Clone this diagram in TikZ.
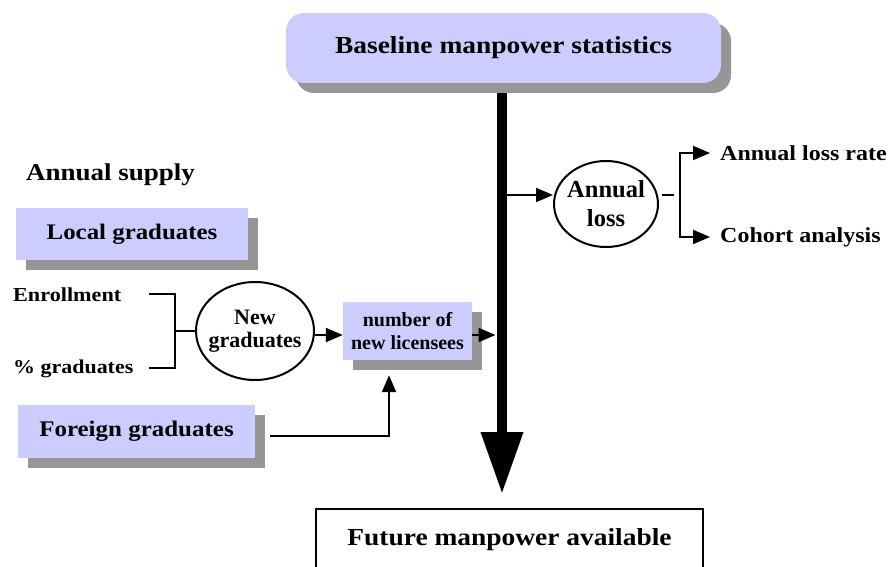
\documentclass[tikz,border=0pt]{standalone}
\usepackage{fontspec}
\setmainfont{Liberation Serif}
\newfontfamily\widefont{Liberation Serif}[FakeStretch=1.12]
\usepackage{xcolor}
\usepackage{tikz}
\usetikzlibrary{arrows.meta,positioning,shapes,shadows,calc}
\definecolor{lavender}{RGB}{204,204,255}
\definecolor{shadowgray}{RGB}{150,150,150}

\begin{document}
\begin{tikzpicture}[x=1pt,y=-1pt,
  box/.style={fill=lavender, inner sep=0pt, drop shadow={shadow xshift=10pt,shadow yshift=-10pt,fill=shadowgray,opacity=1}},
  oval/.style={ellipse, draw, line width=2pt, inner xsep=-6pt, inner ysep=0pt, align=center},
  plain/.style={inner sep=0pt},
  wire/.style={line width=2pt},
  arr/.style={wire, -{Triangle[length=17pt,width=14pt]}}]
\useasboundingbox (0,0) rectangle (896,567);

% Baseline and result
\node[box, rounded corners=18pt, minimum width=435pt, minimum height=70pt, font=\widefont\bfseries\fontsize{24.5}{29}\selectfont] (base) at (503.5,48) {Baseline manpower statistics};
\node[draw, line width=2pt, minimum width=387pt, minimum height=62pt, font=\widefont\bfseries\fontsize{24.5}{29}\selectfont] (future) at (509.5,540) {Future manpower available};

% Annual supply
\node[plain, anchor=base west, font=\widefont\bfseries\fontsize{24.1}{29}\selectfont] (supply) at (26,180) {Annual supply};
\node[box, minimum width=232pt, minimum height=52pt, font=\widefont\bfseries\fontsize{22.2}{27}\selectfont] (local) at (132,234) {Local graduates};
\node[plain, anchor=base west, font=\widefont\bfseries\fontsize{19.8}{24}\selectfont] (enrol) at (13,301) {Enrollment};
\node[plain, anchor=base west, font=\widefont\bfseries\fontsize{19.6}{24}\selectfont] (pct) at (13,373) {\% graduates};
\node[oval, minimum width=118pt, minimum height=98pt, font=\bfseries\fontsize{22}{23}\selectfont] (grad) at (255,331) {New\\graduates};
\node[box, minimum width=129pt, minimum height=58pt, align=center, font=\bfseries\fontsize{20}{23}\selectfont] (lic) at (407.5,331) {number of\\new licensees};
\node[box, minimum width=237pt, minimum height=53pt, font=\widefont\bfseries\fontsize{22.3}{27}\selectfont] (foreign) at (136.5,431.5) {Foreign graduates};

% Annual loss
\node[oval, minimum width=104pt, minimum height=86pt, font=\bfseries\fontsize{24.5}{29}\selectfont] (loss) at (606,204) {Annual\\loss};
\node[plain, anchor=west, font=\widefont\bfseries\fontsize{21.4}{26}\selectfont] (rate) at (720,153) {Annual loss rate};
\node[plain, anchor=west, font=\widefont\bfseries\fontsize{21.4}{26}\selectfont] (cohort) at (720,237) {Cohort analysis};

% Main flow
\draw[line width=10pt, -{Triangle[length=62pt,width=40pt]}, shorten >=14pt] ([xshift=-1.5pt,yshift=-10pt]base.south) -- ([xshift=-1.5pt]base.south |- future.north);

% Supply into the flow
\coordinate (join) at ([xshift=-20pt]grad.west);
\draw[wire] ($(join |- enrol.east)+(-26,0)$) -| (join) |- ($(join |- pct.east)+(-26,0)$);
\draw[wire] (join) -- (grad.west);
\draw[arr] ([yshift=-4pt]grad.east) -- ([yshift=-4pt]lic.west);
\path ([yshift=-4pt]lic.east) coordinate (licout);
\draw[arr, shorten >=6.5pt] (licout) -- ([xshift=-1.5pt]licout -| base.south);
\draw[arr, shorten <=15pt, shorten >=15pt] ([yshift=-4pt]foreign.east) -| ([xshift=-18.5pt]lic.south);

% Loss out of the flow
\path ([yshift=9pt]loss.west) coordinate (lossin) ([yshift=9pt]loss.east) coordinate (lossout);
\draw[arr] (lossin -| base.south) -- (lossin);
\draw[wire] ([xshift=3pt]lossout) -- ++(12,0);
\coordinate (split) at ([xshift=21pt]lossout);
\draw[arr, shorten >=10pt] (split) |- (rate.west);
\draw[arr, shorten >=10pt] (split) |- (cohort.west);

\end{tikzpicture}
\end{document}
